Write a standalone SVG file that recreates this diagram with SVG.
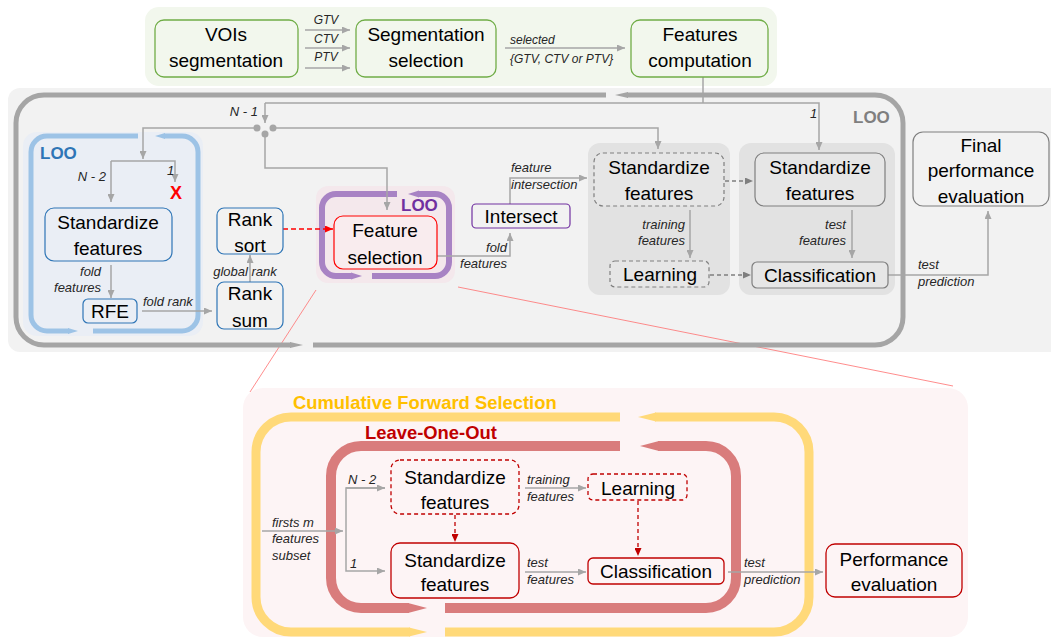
<svg xmlns="http://www.w3.org/2000/svg" width="1051" height="639" viewBox="0 0 1051 639">
  <style>
    .box { font-family: "Liberation Sans", Arial, sans-serif; font-size: 19px; fill: #000; text-anchor: middle; }
    .lbl { font-family: "Liberation Sans", Arial, sans-serif; font-size: 13px; font-style: italic; fill: #262626; }
    .ttl { font-family: "Liberation Sans", Arial, sans-serif; font-weight: bold; }
    .con { fill: none; stroke: #a6a6a6; stroke-width: 1.5; }
    .dash { fill: none; stroke: #7f7f7f; stroke-width: 1.3; stroke-dasharray: 4 3; }
    .rdash { fill: none; stroke: #c00000; stroke-width: 1.3; stroke-dasharray: 4 3; }
    .green { fill: none; stroke: #70ad47; stroke-width: 1.3; }
    .blue { fill: none; stroke: #2e75b6; stroke-width: 1.2; }
    .grey { fill: #e6e6e6; stroke: #7f7f7f; stroke-width: 1.2; }
    .greyd { fill: #e6e6e6; stroke: #7f7f7f; stroke-width: 1.2; stroke-dasharray: 4 3; }
    .redb { fill: none; stroke: #c00000; stroke-width: 1.3; }
    .redd { fill: none; stroke: #c00000; stroke-width: 1.3; stroke-dasharray: 4 3; }
  </style>
  <defs>
    <marker id="ah" markerWidth="8" markerHeight="7" refX="8" refY="3.5" orient="auto" markerUnits="userSpaceOnUse">
      <path d="M0,0 L8,3.5 L0,7 z" fill="#a6a6a6"/>
    </marker>
    <marker id="ahd" markerWidth="8" markerHeight="7" refX="8" refY="3.5" orient="auto" markerUnits="userSpaceOnUse">
      <path d="M0,0 L8,3.5 L0,7 z" fill="#7f7f7f"/>
    </marker>
    <marker id="ahr" markerWidth="8" markerHeight="7" refX="8" refY="3.5" orient="auto" markerUnits="userSpaceOnUse">
      <path d="M0,0 L8,3.5 L0,7 z" fill="#ff0000"/>
    </marker>
    <marker id="ahdr" markerWidth="8" markerHeight="7" refX="8" refY="3.5" orient="auto" markerUnits="userSpaceOnUse">
      <path d="M0,0 L8,3.5 L0,7 z" fill="#c00000"/>
    </marker>
  </defs>

  <!-- background panels -->
  <rect x="145" y="7" width="632" height="79" rx="14" fill="#f2f7ed"/>
  <rect x="8" y="88" width="1060" height="264" rx="12" fill="#f2f2f2"/>
  <rect x="243" y="388" width="725" height="249" rx="20" fill="#fdf4f5"/>
  <rect x="23" y="132" width="180" height="204" rx="14" fill="#eaeef5"/>
  <rect x="316" y="186" width="139" height="97" rx="12" fill="#f4e8ec"/>
  <rect x="588" y="143" width="142" height="152" rx="12" fill="#e2e2e2"/>
  <rect x="739" y="143" width="156" height="152" rx="12" fill="#e2e2e2"/>

  <!-- zoom guide lines -->
  <line x1="316" y1="290" x2="250" y2="392" stroke="#ff7070" stroke-width="0.8"/>
  <line x1="458" y1="287" x2="953" y2="386" stroke="#ff7070" stroke-width="0.8"/>

  <!-- outer LOO loop (grey) -->
  <g id="loop-outer" fill="none" stroke="#a5a5a5" stroke-width="5">
    <path d="M313,345 H875 A28,28 0 0 0 903,317 V123 A28,28 0 0 0 875,95 H627"/>
    <path d="M606,95 H44 A28,28 0 0 0 16,123 V317 A28,28 0 0 0 44,345 H291"/>
    <polygon points="615,95 628,92 628,98" fill="#a5a5a5" stroke="none"/>
    <polygon points="303,345 290,342 290,348" fill="#a5a5a5" stroke="none"/>
  </g>
  <!-- RFE LOO loop (blue) -->
  <g id="loop-rfe" fill="none" stroke="#9dc3e6" stroke-width="5">
    <path d="M93,331 H182 A16,16 0 0 0 198,315 V152 A16,16 0 0 0 182,136 H164"/>
    <path d="M138,136 H47 A16,16 0 0 0 31,152 V315 A16,16 0 0 0 47,331 H69"/>
    <polygon points="155,136 165,133 165,139" fill="#9dc3e6" stroke="none"/>
    <polygon points="78,331 68,328 68,334" fill="#9dc3e6" stroke="none"/>
  </g>
  <!-- feature selection LOO loop (purple) -->
  <g id="loop-fs" fill="none" stroke="#a883c4" stroke-width="6">
    <path d="M372,276 H435 A14,14 0 0 0 449,262 V208 A14,14 0 0 0 435,194 H418"/>
    <path d="M397,194 H336 A14,14 0 0 0 322,208 V262 A14,14 0 0 0 336,276 H352"/>
    <polygon points="408,194 419,190.5 419,197.5" fill="#a883c4" stroke="none"/>
    <polygon points="362,276 351,272.5 351,279.5" fill="#a883c4" stroke="none"/>
  </g>
  <!-- cumulative forward selection loop (yellow) -->
  <g id="loop-cfs" fill="none" stroke="#ffd979" stroke-width="9">
    <path d="M445,632 H774 A35,35 0 0 0 809,597 V452 A35,35 0 0 0 774,417 H655"/>
    <path d="M620,417 H291 A35,35 0 0 0 256,452 V597 A35,35 0 0 0 291,632 H410"/>
    <polygon points="638,417 656,412.5 656,421.5" fill="#ffd979" stroke="none"/>
    <polygon points="427,632 409,627.5 409,636.5" fill="#ffd979" stroke="none"/>
  </g>
  <!-- leave-one-out loop (red) -->
  <g id="loop-loo" fill="none" stroke="#d97c7c" stroke-width="10">
    <path d="M445,608 H706 A30,30 0 0 0 736,578 V476 A30,30 0 0 0 706,446 H658"/>
    <path d="M620,446 H361 A30,30 0 0 0 331,476 V578 A30,30 0 0 0 361,608 H409"/>
    <polygon points="640,446 659,441 659,451" fill="#d97c7c" stroke="none"/>
    <polygon points="427,608 408,603 408,613" fill="#d97c7c" stroke="none"/>
  </g>

  <!-- loop titles -->
  <text class="ttl" x="853" y="123" font-size="17" fill="#7f7f7f">LOO</text>
  <text class="ttl" x="40" y="159" font-size="17" fill="#2e75b6">LOO</text>
  <text class="ttl" x="401" y="211" font-size="17" fill="#7030a0">LOO</text>
  <text class="ttl" x="293" y="409" font-size="18.4" fill="#ffc000">Cumulative Forward Selection</text>
  <text class="ttl" x="365" y="439" font-size="18.4" fill="#c00000">Leave-One-Out</text>

  <!-- connectors -->
  <g id="connectors">
    <line class="con" x1="305" y1="30" x2="350" y2="30" marker-end="url(#ah)"/>
    <line class="con" x1="305" y1="48" x2="350" y2="48" marker-end="url(#ah)"/>
    <line class="con" x1="305" y1="68" x2="350" y2="68" marker-end="url(#ah)"/>
    <line class="con" x1="505" y1="48" x2="625" y2="48" marker-end="url(#ah)"/>
    <path class="con" d="M703,77 V103"/>
    <path class="con" d="M265,103 H819 V150" marker-end="url(#ah)"/>
    <path class="con" d="M265,103 V123" marker-end="url(#ah)"/>
    <circle cx="257" cy="128" r="3.5" fill="#a6a6a6"/>
    <circle cx="273" cy="128" r="3.5" fill="#a6a6a6"/>
    <circle cx="265" cy="134" r="3.5" fill="#a6a6a6"/>
    <path class="con" d="M257,128 H143 V159" marker-end="url(#ah)"/>
    <path class="con" d="M273,128 H658 V149" marker-end="url(#ah)"/>
    <path class="con" d="M265,134 V168 H387 V210" marker-end="url(#ah)"/>
    <path class="con" d="M111,161 H175 V182" marker-end="url(#ah)"/>
    <path class="con" d="M111,161 V202" marker-end="url(#ah)"/>
    <line class="con" x1="111" y1="265" x2="111" y2="298" marker-end="url(#ah)"/>
    <line class="con" x1="142" y1="311" x2="212" y2="311" marker-end="url(#ah)"/>
    <line class="con" x1="250" y1="282" x2="250" y2="255" marker-end="url(#ah)"/>
    <line x1="283" y1="229" x2="333" y2="229" stroke="#ff0000" stroke-width="1.3" stroke-dasharray="5 3" marker-end="url(#ahr)"/>
    <path class="con" d="M437,256 H510 V233" marker-end="url(#ah)"/>
    <path class="con" d="M510,204 V178 H587" marker-end="url(#ah)"/>
    <line class="con" x1="690" y1="210" x2="690" y2="258" marker-end="url(#ah)"/>
    <line class="con" x1="852" y1="210" x2="852" y2="258" marker-end="url(#ah)"/>
    <line class="dash" x1="725" y1="181" x2="753" y2="181" marker-end="url(#ahd)"/>
    <line class="dash" x1="710" y1="275" x2="751" y2="275" marker-end="url(#ahd)"/>
    <path class="con" d="M888,275 H988 V211" marker-end="url(#ah)"/>

    <line class="con" x1="262" y1="531" x2="343" y2="531" marker-end="url(#ah)"/>
    <path class="con" d="M385,488 H346 V571 H385" marker-end="url(#ah)"/>
    <line class="con" x1="346" y1="488" x2="385" y2="488" marker-end="url(#ah)"/>
    <line class="rdash" x1="455" y1="515" x2="455" y2="542" marker-end="url(#ahdr)"/>
    <line class="con" x1="525" y1="488" x2="586" y2="488" marker-end="url(#ah)"/>
    <line class="con" x1="525" y1="572" x2="586" y2="572" marker-end="url(#ah)"/>
    <line class="rdash" x1="638" y1="501" x2="638" y2="556" marker-end="url(#ahdr)"/>
    <line class="con" x1="728" y1="572" x2="823" y2="572" marker-end="url(#ah)"/>
  </g>

  <!-- connector labels -->
  <g id="labels" class="lbl">
    <text x="326" y="24" font-size="12" text-anchor="middle">GTV</text>
    <text x="326" y="43" font-size="12" text-anchor="middle">CTV</text>
    <text x="326" y="61" font-size="12" text-anchor="middle">PTV</text>
    <text x="510" y="44" font-size="12">selected</text>
    <text x="510" y="63" font-size="12">{GTV, CTV or PTV}</text>
    <text x="258" y="116" text-anchor="end">N - 1</text>
    <text x="810" y="118">1</text>
    <text x="106" y="181" text-anchor="end">N - 2</text>
    <text x="167" y="175">1</text>
    <text x="101" y="276" text-anchor="end">fold</text>
    <text x="101" y="292" text-anchor="end">features</text>
    <text x="143" y="306">fold rank</text>
    <text x="245" y="276" text-anchor="middle">global rank</text>
    <text x="507" y="252" text-anchor="end">fold</text>
    <text x="507" y="268" text-anchor="end">features</text>
    <text x="511" y="172">feature</text>
    <text x="511" y="189">intersection</text>
    <text x="685" y="229" text-anchor="end">training</text>
    <text x="685" y="245" text-anchor="end">features</text>
    <text x="846" y="229" text-anchor="end">test</text>
    <text x="846" y="245" text-anchor="end">features</text>
    <text x="918" y="269">test</text>
    <text x="918" y="286">prediction</text>
    <text x="272" y="527">firsts m</text>
    <text x="272" y="543">features</text>
    <text x="272" y="560">subset</text>
    <text x="348" y="484">N - 2</text>
    <text x="350" y="568">1</text>
    <text x="527" y="484">training</text>
    <text x="527" y="501">features</text>
    <text x="527" y="567">test</text>
    <text x="527" y="584">features</text>
    <text x="744" y="567">test</text>
    <text x="744" y="584">prediction</text>
  </g>
  <text class="ttl" x="176" y="199" font-size="18" fill="#ff0000" text-anchor="middle">X</text>

  <!-- pipeline nodes -->
  <g id="vois-segmentation">
    <rect class="green" x="155" y="20" width="143" height="57" rx="9"/>
    <text class="box" x="226" y="41">VOIs</text>
    <text class="box" x="226" y="67">segmentation</text>
  </g>
  <g id="segmentation-selection">
    <rect class="green" x="356" y="20" width="140" height="57" rx="9"/>
    <text class="box" x="426" y="41">Segmentation</text>
    <text class="box" x="426" y="67">selection</text>
  </g>
  <g id="features-computation">
    <rect class="green" x="631" y="20" width="137" height="57" rx="9"/>
    <text class="box" x="700" y="41">Features</text>
    <text class="box" x="700" y="67">computation</text>
  </g>
  <g id="rfe-standardize">
    <rect class="blue" x="45" y="208" width="127" height="53" rx="9"/>
    <text class="box" x="108" y="229">Standardize</text>
    <text class="box" x="108" y="255">features</text>
  </g>
  <g id="rfe">
    <rect class="blue" x="83" y="299" width="54" height="24" rx="5"/>
    <text class="box" x="110" y="318">RFE</text>
  </g>
  <g id="rank-sort">
    <rect class="blue" x="217" y="208" width="66" height="46" rx="7"/>
    <text class="box" x="250" y="226">Rank</text>
    <text class="box" x="250" y="252">sort</text>
  </g>
  <g id="rank-sum">
    <rect class="blue" x="217" y="282" width="66" height="47" rx="7"/>
    <text class="box" x="250" y="300">Rank</text>
    <text class="box" x="250" y="327">sum</text>
  </g>
  <g id="feature-selection">
    <rect x="334" y="216" width="103" height="53" rx="9" fill="#f9ecee" stroke="#ff0000" stroke-width="1.2"/>
    <text class="box" x="385" y="237">Feature</text>
    <text class="box" x="385" y="264">selection</text>
  </g>
  <g id="intersect">
    <rect x="472" y="204" width="98" height="24" rx="4" fill="#f2f2f2" stroke="#7030a0" stroke-width="1.2"/>
    <text class="box" x="521" y="223">Intersect</text>
  </g>
  <g id="train-standardize">
    <rect class="greyd" x="594" y="153" width="130" height="53" rx="9"/>
    <text class="box" x="659" y="174">Standardize</text>
    <text class="box" x="659" y="200">features</text>
  </g>
  <g id="train-learning">
    <rect class="greyd" x="610" y="261" width="99" height="26" rx="5"/>
    <text class="box" x="660" y="281">Learning</text>
  </g>
  <g id="test-standardize">
    <rect class="grey" x="755" y="153" width="130" height="53" rx="9"/>
    <text class="box" x="820" y="174">Standardize</text>
    <text class="box" x="820" y="200">features</text>
  </g>
  <g id="test-classification">
    <rect class="grey" x="752" y="262" width="136" height="26" rx="5"/>
    <text class="box" x="820" y="282">Classification</text>
  </g>
  <g id="final-evaluation">
    <rect x="913" y="132" width="136" height="74" rx="10" fill="none" stroke="#7f7f7f" stroke-width="1.2"/>
    <text class="box" x="981" y="152">Final</text>
    <text class="box" x="981" y="177">performance</text>
    <text class="box" x="981" y="203">evaluation</text>
  </g>

  <!-- forward selection detail -->
  <g id="cfs-train-standardize">
    <rect class="redd" x="391" y="460" width="128" height="54" rx="9"/>
    <text class="box" x="455" y="484">Standardize</text>
    <text class="box" x="455" y="509">features</text>
  </g>
  <g id="cfs-test-standardize">
    <rect class="redb" x="391" y="543" width="128" height="55" rx="9"/>
    <text class="box" x="455" y="567">Standardize</text>
    <text class="box" x="455" y="591">features</text>
  </g>
  <g id="cfs-learning">
    <rect class="redd" x="588" y="474" width="99" height="26" rx="5"/>
    <text class="box" x="638" y="495">Learning</text>
  </g>
  <g id="cfs-classification">
    <rect class="redb" x="588" y="558" width="136" height="26" rx="5"/>
    <text class="box" x="656" y="578">Classification</text>
  </g>
  <g id="cfs-performance">
    <rect class="redb" x="826" y="544" width="136" height="53" rx="9"/>
    <text class="box" x="894" y="566">Performance</text>
    <text class="box" x="894" y="591">evaluation</text>
  </g>
</svg>
